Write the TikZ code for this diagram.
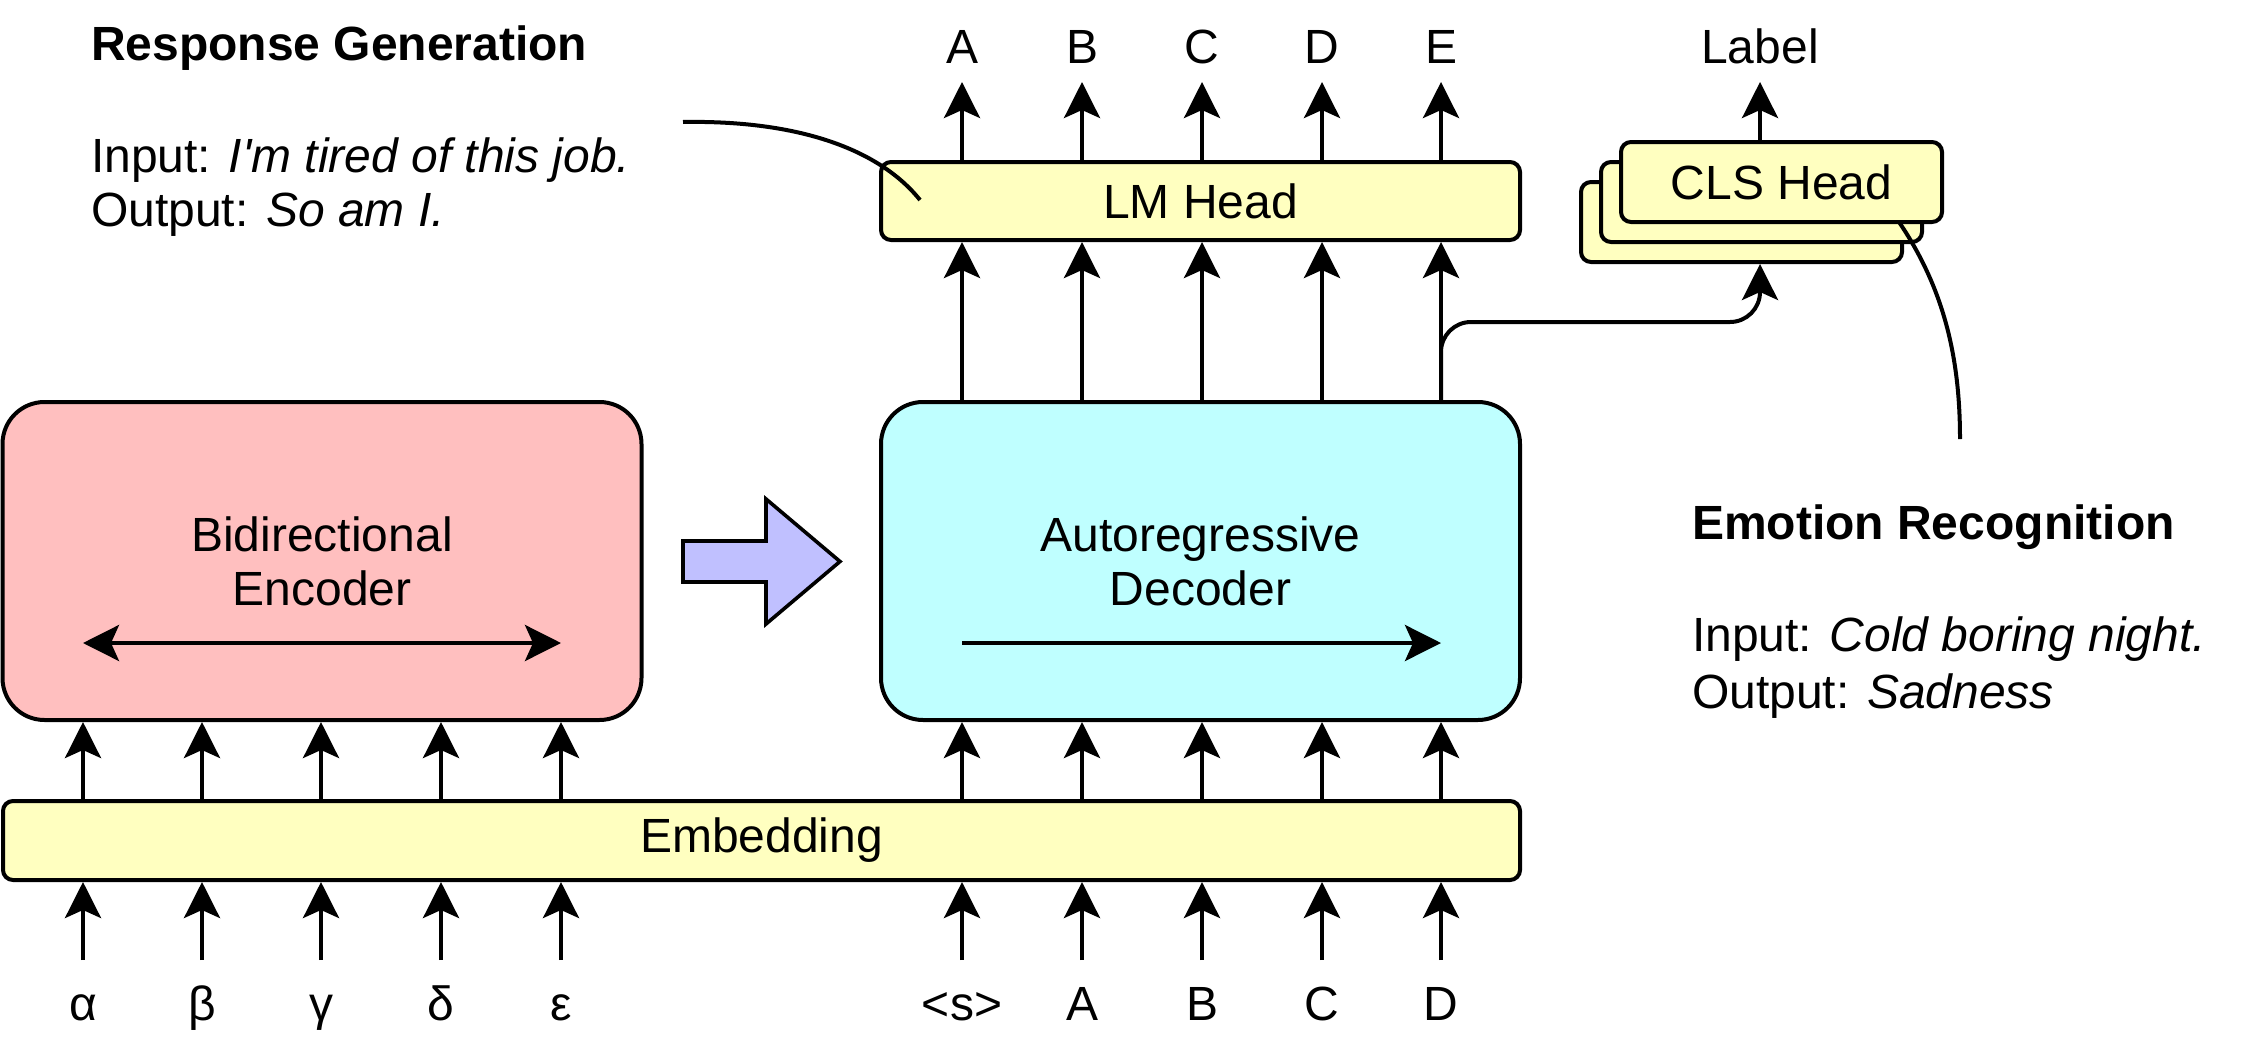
\documentclass[tikz,border=0pt]{standalone}
\usepackage{fontspec}
\setmainfont{Liberation Sans}
\usetikzlibrary{arrows.meta,positioning}
\definecolor{encred}{HTML}{FFBFBF}
\definecolor{deccyan}{HTML}{BFFFFF}
\definecolor{headyellow}{HTML}{FFFFC0}
\definecolor{shiftblue}{HTML}{C0C0FF}
\tikzset{
  block/.style={draw,line width=2pt,rounded corners=21pt,minimum width=319.5pt,minimum height=159pt,inner sep=0pt,align=center},
  bar/.style={draw,fill=headyellow,line width=2pt,rounded corners=5pt,inner sep=0pt},
  clsbox/.style={bar,minimum width=160.5pt,minimum height=40pt},
  tok/.style={inner sep=0pt,text height=17pt,text depth=5pt,anchor=base},
  txt/.style={inner sep=0pt,anchor=base west},
}
\begin{document}
\begin{tikzpicture}[x=0.5pt,y=-0.5pt,>={Stealth[length=18pt,width=18pt,inset=4pt]},line width=2pt,font=\fontsize{24}{27}\selectfont]
\useasboundingbox (0,0) rectangle (2244,1044);

% encoder / decoder
\node[block,fill=encred] (enc) at (322,561) {Bidirectional\\Encoder};
\node[block,fill=deccyan] (dec) at (1200.5,561) {Autoregressive\\Decoder};
\coordinate (encl) at (83,643);
\coordinate (encr) at (561,643);
\coordinate (decl) at (962,643);
\coordinate (decr) at (1441,643);
\draw[<->] (encl)--(encr);
\draw[->] (decl)--(decr);

% shift arrow
\draw[fill=shiftblue,line width=1.8pt] (683,541)--(766,541)--(766,499)--(840,561.5)--(766,624)--(766,582)--(683,582)--cycle;

% embedding and heads
\node[bar,minimum width=758.5pt,minimum height=39.5pt] (emb) at (761.5,840.5) {Embedding};
\node[bar,minimum width=319.5pt,minimum height=39pt] (lm) at (1200.5,201) {LM Head};
\node[clsbox] (cls1) at (1741.5,222) {};
\node[clsbox] (cls2) at (1761.5,202) {};
\node[clsbox] (cls3) at (1781.5,182) {CLS Head};

% encoder side
\foreach \x/\lab [count=\k] in {83/α,202/β,321/γ,441/δ,561/ε}{
  \node[tok] (src\k) at (\x,1020) {\lab};
  \draw[->] ([yshift=12pt]src\k.north)--(src\k |- emb.south);
  \draw[->] (src\k |- emb.north)--(src\k |- enc.south);
}

% decoder side
\foreach \x/\lab/\res [count=\k] in {962/<s>/A,1082/A/B,1202/B/C,1322/C/D,1441/D/E}{
  \node[tok] (tgt\k) at (\x,1020) {\lab};
  \node[tok] (out\k) at (\x,63) {\res};
  \draw[->] ([yshift=12pt]tgt\k.north)--(tgt\k |- emb.south);
  \draw[->] (tgt\k |- emb.north)--(tgt\k |- dec.south);
  \draw[->] (tgt\k |- dec.north)--(tgt\k |- lm.south);
  \draw[->] (tgt\k |- lm.north)--([yshift=-3.5pt]out\k.south);
}

% classification branch
\node[tok] (lbl) at (1760,63) {Label};
\coordinate (bend) at (1760,322);
\draw[->,rounded corners=15pt] (tgt5 |- dec.north) |- (bend)--(bend |- cls1.south);
\draw[->] (bend |- cls3.north)--([yshift=-3.5pt]lbl.south);

% task notes
\node[txt,font=\fontsize{24}{27}\selectfont\bfseries] (rgtitle) at (89,61) {Response Generation};
\node[txt] (rgin) at (89,172) {Input: \textit{I\textquotesingle m tired of this job.}};
\node[txt] (rgout) at (89,226) {Output: \textit{So am I.}};
\node[txt,font=\fontsize{24}{27}\selectfont\bfseries] (ertitle) at (1690,539) {Emotion Recognition};
\node[txt] (erin) at (1690,651) {Input: \textit{Cold boring night.}};
\node[txt] (erout) at (1690,708) {Output: \textit{Sadness}};

\coordinate (rgs) at (683,122);
\coordinate (rge) at (920,200);
\draw (rgs) .. controls (800,120) and (880,150) .. (rge);
\coordinate (ers) at (1899,222);
\coordinate (ere) at (1960,439);
\draw (ers) .. controls (1945,290) and (1960,360) .. (ere);

\end{tikzpicture}
\end{document}
